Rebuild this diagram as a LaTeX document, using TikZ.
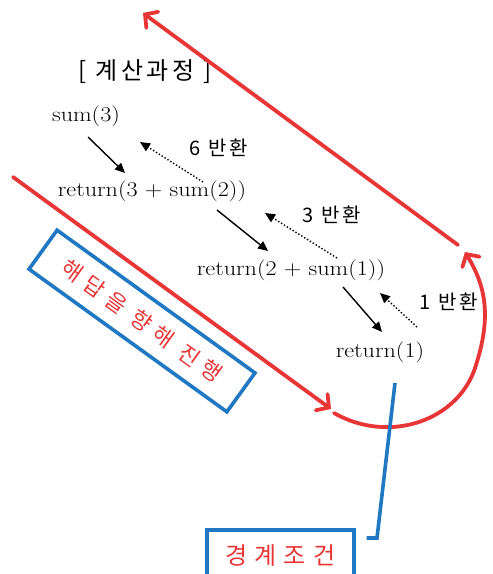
\documentclass[tikz,border=0pt]{standalone}
\usepackage{fontspec}
\newfontfamily\kr{Noto Sans CJK KR}[LetterSpace=15]
\newfontfamily\krwide{Noto Sans CJK KR}[LetterSpace=30]
\newfontfamily\exprfont{Latin Modern Roman}[FakeStretch=1.15]
\usepackage{tikz}
\usetikzlibrary{arrows.meta,positioning,calc}
\definecolor{redx}{HTML}{E83535}
\definecolor{bluex}{HTML}{1F78C1}

\begin{document}
\begin{tikzpicture}[x=1pt,y=-1pt,
  expr/.style={font=\exprfont\fontsize{21}{21}\selectfont, inner sep=0pt},
  ret/.style={font=\kr\fontsize{20}{20}\selectfont, inner sep=0pt},
  callarrow/.style={line width=1.4pt, -{Triangle[length=10pt,width=9pt]}},
  backarrow/.style={line width=1.4pt, dotted, -{Triangle[length=10pt,width=9pt]}},
  flow/.style={redx, line width=3.8pt, line cap=round, -{Straight Barb[length=9pt,width=20pt,line cap=round]}},
  notebox/.style={draw=bluex, line width=3.6pt, text=redx, inner sep=0pt}]
\useasboundingbox (0,0) rectangle (493,574);
% calculation steps
\node[font=\kr\fontsize{24}{24}\selectfont] (title) at (145,72) {[ 계산과정 ]};
\node[expr] (s3) at (86,116) {sum(3)};
\node[expr] (r3) at (152,191) {return(3~+~sum(2))};
\node[expr] (r2) at (291,270) {return(2~+~sum(1))};
\node[expr] (r1) at (380,352) {return(1)};
\node[ret] (b6) at (219,148) {6 반환};
\node[ret] (b3) at (332,215) {3 반환};
\node[ret] (b1) at (449,302) {1 반환};
% calls going down
\draw[callarrow] ($(s3)+(2,21)$) -- ++(37,36);
\draw[callarrow] ($(r3)+(65,19)$) -- ++(51,41);
\draw[callarrow] ($(r2)+(52,17)$) -- ++(39,45);
% values coming back
\draw[backarrow] ($(r3)+(51,-9)$) -- ++(-63,-40);
\draw[backarrow] ($(r2)+(46,-12)$) -- ++(-72,-45);
\draw[backarrow] ($(r1)+(37,-25)$) -- ++(-37,-34);
% red flow: down, turn, back up
\coordinate (downS) at (13,177);
\coordinate (downE) at (331,409);
\coordinate (turnS) at (334,413);
\coordinate (turnE) at (465,252);
\coordinate (upS) at (458,245);
\coordinate (upE) at (143,13);
\draw[flow] (downS) -- (downE);
\draw[flow] (turnS) .. controls (390,445) and (460,420) .. (476,365)
  .. controls (492,315) and (485,285) .. (turnE);
\draw[flow] (upS) -- (upE);
% notes
\node[notebox, rotate=-35.8, minimum width=244, minimum height=48,
  font=\krwide\fontsize{22}{22}\selectfont] (goal) at (142,321) {해답을 향해 진행};
\node[notebox, anchor=north west, minimum width=147, minimum height=52,
  font=\krwide\fontsize{24}{24}\selectfont] (bound) at (205,528) {경계조건};
\coordinate (baseEnd) at (395,383);
\draw[bluex, line width=3.6pt] (baseEnd) -- ++(-18,155) -- ($(bound.north east)+(11,10)$);
\end{tikzpicture}
\end{document}
